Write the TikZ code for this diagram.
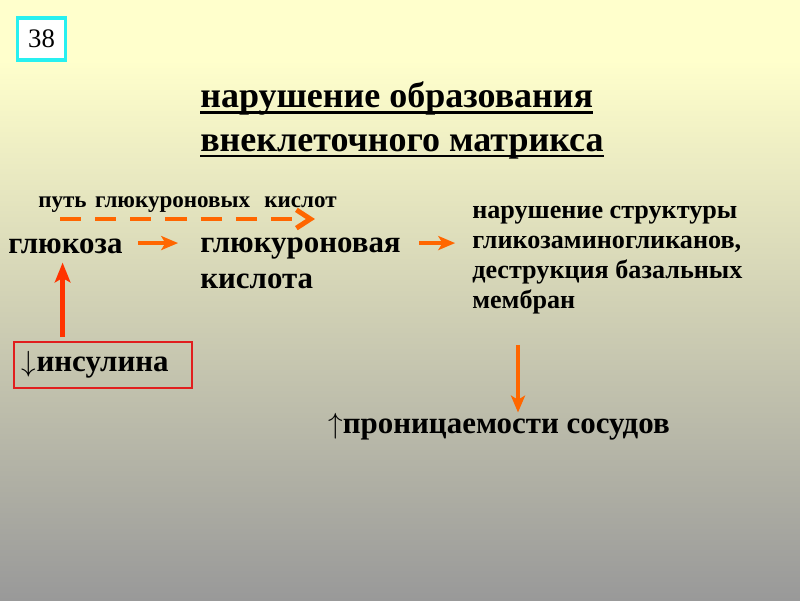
\documentclass[tikz,border=0pt]{standalone}
\usepackage{fontspec}
\setmainfont{Liberation Serif}
\usetikzlibrary{arrows.meta,positioning}

\definecolor{bgtop}{RGB}{255,255,204}
\definecolor{bgbot}{RGB}{153,153,153}
\definecolor{arrorange}{RGB}{255,102,0}
\definecolor{arrred}{RGB}{255,51,0}
\definecolor{boxcyan}{RGB}{40,240,240}
\definecolor{boxred}{RGB}{225,30,30}

% underline with a thick rule
\newsavebox{\ulbox}
\newcommand{\ulline}[1]{\sbox{\ulbox}{#1}\rlap{\usebox{\ulbox}}\rule[-4.5pt]{\wd\ulbox}{2pt}}

\begin{document}
\begin{tikzpicture}[x=0.025cm, y=-0.025cm,
    title/.style={font=\fontsize{25.6}{30.6}\selectfont\bfseries, inner sep=0pt, anchor=base west, align=left},
    big/.style={font=\fontsize{22}{24.9}\selectfont\bfseries, inner sep=0pt, anchor=base west},
    mid/.style={font=\fontsize{18.6}{21.3}\selectfont\bfseries, inner sep=0pt, anchor=base west, align=left},
    small/.style={font=\fontsize{16.4}{18}\selectfont\bfseries, inner sep=0pt, anchor=base west},
    arr/.style={draw=arrorange, line width=3.3pt, -{Stealth[length=12pt,width=10pt,inset=3pt]}},
    uparr/.style={draw=arrred, line width=3.5pt, -{Stealth[length=14pt,width=11pt,inset=3pt]}},
    dasharr/.style={draw=arrorange, line width=3.5pt, dash pattern=on 15pt off 10pt, -{Straight Barb[length=10pt,width=13pt]}}
  ]
  \useasboundingbox (0,0) rectangle (800,600);
  % background: yellow on top, grey at the bottom
  \fill[bgtop] (0,0) rectangle (800,60);
  \shade[top color=bgtop, bottom color=bgbot] (0,60) rectangle (800,600);

  % slide number
  \node[draw=boxcyan, line width=2.2pt, fill=white, minimum width=1.2cm, minimum height=1.05cm,
        font=\fontsize{19}{22}\selectfont] (num) at (41.5,39) {38};

  % title, underlined (base = last line)
  \node[title] (title) at (200,151) {\ulline{нарушение образования}\\\ulline{внеклеточного матрикса}};

  % text of the chain
  \node[small] (path) at (38,207) {путь\hspace{2pt} глюкуроновых\hspace{6pt} кислот};
  \node[big] (glucose) at (8,253) {глюкоза};
  \node[big, align=left] (acid) at (200,288) {глюкуроновая\\кислота};
  \node[mid] (damage) at (472,308) {нарушение структуры\\гликозаминогликанов,\\деструкция базальных\\мембран};
  \node[big] (perm) at (328,433) {$\uparrow$проницаемости сосудов};

  % insulin in a red box
  \node[draw=boxred, line width=1.3pt, inner xsep=0.2cm, inner ysep=0pt, text width=4.05cm,
        minimum height=1.15cm, align=left, font=\fontsize{22}{26}\selectfont\bfseries] (insulin) at (103,365) {$\downarrow$инсулина};

  % add arrows
  \draw[dasharr] ([shift={(22,12)}]path.base west) -- ([shift={(-22,12)}]path.base east);
  \draw[arr, shorten <=10.7pt, shorten >=15.6pt] ([yshift=2pt]glucose.east) -- ([yshift=2pt]glucose.east -| acid.west);
  \draw[arr, shorten <=12.8pt, shorten >=12pt] ([yshift=2pt]glucose.east -| acid.east) -- ([yshift=2pt]glucose.east -| damage.west);
  \draw[uparr, shorten <=2.8pt, shorten >=6.4pt] ([xshift=-2pt]glucose.south |- insulin.north) -- ([xshift=-2pt]glucose.south);
  \draw[arr, shorten <=22pt] ([xshift=13.5pt]perm.north |- damage.south) -- ([xshift=13.5pt]perm.north);
\end{tikzpicture}
\end{document}
